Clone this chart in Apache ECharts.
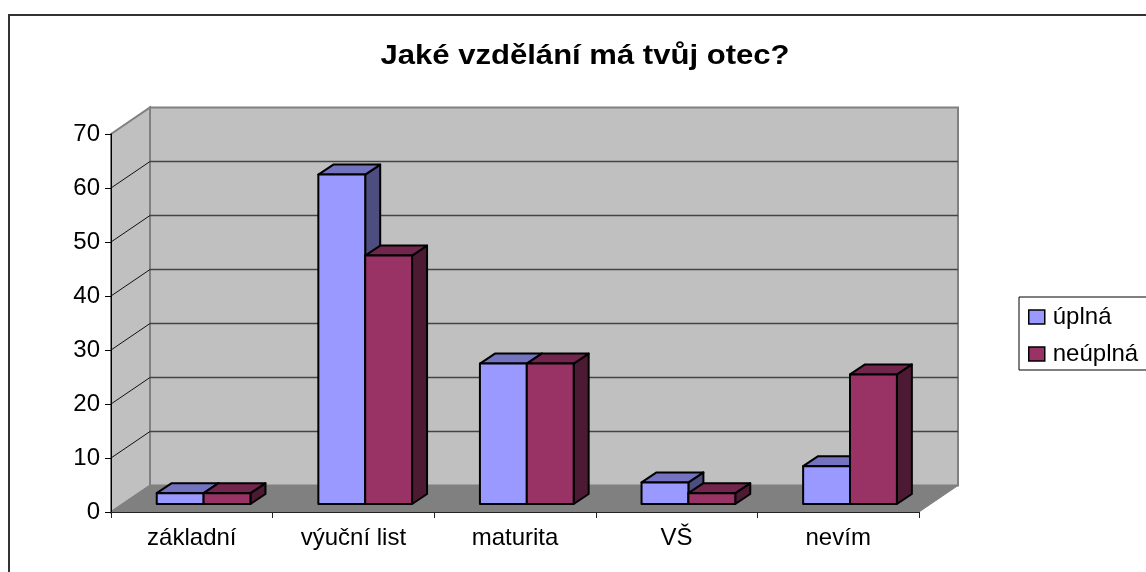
<!DOCTYPE html>
<html>
<head>
<meta charset="utf-8">
<style>
  html, body { margin: 0; padding: 0; background: #fff; }
  #chart { width: 1146px; height: 572px; }
</style>
</head>
<body>
<div id="chart"></div>
<script src="https://cdn.jsdelivr.net/npm/echarts@6/dist/echarts.min.js"></script>
<script>
const categories = ["základní", "výuční list", "maturita", "VŠ", "nevím"];
const uplna = [2, 61, 26, 4, 7];
const neuplna = [2, 46, 26, 2, 24];
const gridValues = [10, 20, 30, 40, 50, 60];
const chartTitle = "Jaké vzdělání má tvůj otec?";

const fontName = '"Liberation Sans", Arial, sans-serif';
// how far the back wall and the bars sit behind the front plane, in px
const wallDx = 39, wallDy = -26.5;
const barGapX = 11.8, barGapY = -8;
const barDx = 15, barDy = -10;

const myChart = echarts.init(document.getElementById("chart"));

function renderWalls(params, api) {
  const low = api.coord([0, 0]);
  const high = api.coord([0, 70]);
  const left = params.coordSys.x;
  const right = left + params.coordSys.width;
  const top = high[1], bottom = low[1];
  const wallStyle = { fill: "#c0c0c0", stroke: "#808080", lineWidth: 2 };
  return {
    type: "group",
    children: [
      {
        type: "polygon",
        shape: { points: [[left + wallDx, top + wallDy], [right + wallDx, top + wallDy], [right + wallDx, bottom + wallDy], [left + wallDx, bottom + wallDy]] },
        style: wallStyle,
      },
      {
        type: "polygon",
        shape: { points: [[left, top], [left + wallDx, top + wallDy], [left + wallDx, bottom + wallDy], [left, bottom]] },
        style: wallStyle,
      },
      {
        type: "polygon",
        shape: { points: [[left, bottom], [left + wallDx, bottom + wallDy], [right + wallDx, bottom + wallDy], [right, bottom]] },
        style: { fill: "#808080", stroke: "#808080", lineWidth: 1 },
      },
    ],
  };
}

function renderGridLine(params, api) {
  const p = api.coord([0, api.value(0)]);
  const left = params.coordSys.x;
  const right = left + params.coordSys.width;
  return {
    type: "group",
    children: [
      {
        type: "line",
        shape: { x1: left, y1: p[1], x2: left + wallDx, y2: p[1] + wallDy },
        style: { stroke: "#111", lineWidth: 1 },
      },
      {
        type: "line",
        shape: { x1: left + wallDx, y1: p[1] + wallDy, x2: right + wallDx, y2: p[1] + wallDy },
        style: { stroke: "#444", lineWidth: 1.5 },
      },
    ],
  };
}

function barRenderer(seriesIndex, front, top, side) {
  return function (params, api) {
    const w = api.size([1, 0])[0] * 0.29;
    const base = api.coord([api.value(0), 0]);
    const head = api.coord([api.value(0), api.value(1)]);
    const x0 = base[0] + barGapX + (seriesIndex - 1) * w;
    const x1 = x0 + w;
    const y0 = base[1] + barGapY;
    const y1 = head[1] + barGapY;
    const edge = { stroke: "#000", lineWidth: 2, lineJoin: "round" };
    return {
      type: "group",
      children: [
        {
          type: "polygon",
          shape: { points: [[x1, y1], [x1 + barDx, y1 + barDy], [x1 + barDx, y0 + barDy], [x1, y0]] },
          style: Object.assign({ fill: side }, edge),
        },
        {
          type: "polygon",
          shape: { points: [[x0, y1], [x0 + barDx, y1 + barDy], [x1 + barDx, y1 + barDy], [x1, y1]] },
          style: Object.assign({ fill: top }, edge),
        },
        {
          type: "rect",
          shape: { x: x0, y: y1, width: w, height: y0 - y1 },
          style: Object.assign({ fill: front }, edge),
        },
      ],
    };
  };
}

const option = {
  animation: false,
  backgroundColor: "#ffffff",
  graphic: [
    {
      type: "rect",
      silent: true,
      z: -1,
      shape: { x: 9, y: 15, width: 1300, height: 700 },
      style: { fill: "#fff", stroke: "#333", lineWidth: 2 },
    },
    // the original title is stretched sideways, the title component can't do that
    {
      type: "text",
      silent: true,
      x: 585,
      y: 57,
      scaleX: 1.15,
      style: {
        text: chartTitle,
        align: "center",
        verticalAlign: "middle",
        font: 'bold 27px "Liberation Sans", Arial, sans-serif',
        fill: "#000",
      },
    },
  ],
  legend: {
    orient: "vertical",
    left: 1019,
    top: 297,
    padding: [8, 30, 4, 9],
    itemGap: 13,
    itemWidth: 16,
    itemHeight: 14,
    icon: "rect",
    borderColor: "#000",
    borderWidth: 1,
    backgroundColor: "#fff",
    itemStyle: { borderColor: "#000", borderWidth: 1.5 },
    textStyle: { fontFamily: fontName, fontSize: 24, color: "#000", padding: [0, 0, 0, 3] },
    data: ["úplná", "neúplná"],
  },
  grid: { left: 111, right: 227, top: 134, bottom: 60 },
  xAxis: {
    type: "category",
    data: categories,
    z: 5,
    axisLine: { lineStyle: { color: "#222", width: 1 } },
    axisTick: { show: true, alignWithLabel: false, length: 6, lineStyle: { color: "#222" } },
    axisLabel: { margin: 14, fontFamily: fontName, fontSize: 24, color: "#000", interval: 0 },
    splitLine: { show: false },
  },
  yAxis: {
    type: "value",
    min: 0,
    max: 70,
    interval: 10,
    z: 5,
    axisLine: { show: true, lineStyle: { color: "#000", width: 1 } },
    axisTick: { show: true, length: 6, lineStyle: { color: "#000" } },
    axisLabel: { margin: 11, fontFamily: fontName, fontSize: 24, color: "#000" },
    splitLine: { show: false },
  },
  series: [
    {
      type: "custom",
      name: "walls",
      silent: true,
      z: 1,
      data: [[0]],
      renderItem: renderWalls,
    },
    {
      type: "custom",
      name: "gridlines",
      silent: true,
      z: 1,
      data: gridValues.map((v) => [v]),
      encode: { y: 0 },
      renderItem: renderGridLine,
    },
    {
      type: "custom",
      name: "úplná",
      z: 2,
      itemStyle: { color: "#9999ff" },
      data: uplna.map((v, i) => [i, v]),
      encode: { x: 0, y: 1 },
      renderItem: barRenderer(0, "#9999ff", "#7373bf", "#4d4d80"),
    },
    {
      type: "custom",
      name: "neúplná",
      z: 2,
      itemStyle: { color: "#993366" },
      data: neuplna.map((v, i) => [i, v]),
      encode: { x: 0, y: 1 },
      renderItem: barRenderer(1, "#993366", "#73264d", "#4d1a33"),
    },
  ],
};

myChart.setOption(option);
</script>
</body>
</html>
